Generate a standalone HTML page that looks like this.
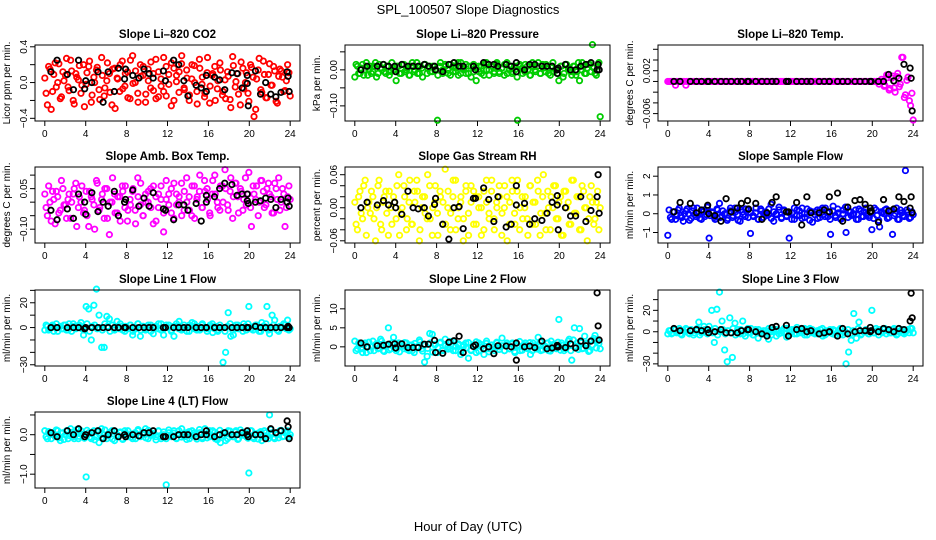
<!DOCTYPE html>
<html><head><meta charset="utf-8"><style>
html,body{margin:0;padding:0;background:#fff;}
svg{display:block;font-family:"Liberation Sans",sans-serif;}
</style></head><body>
<svg id="chart" width="936" height="540" viewBox="0 0 936 540" xmlns="http://www.w3.org/2000/svg">
<text x="468" y="14" text-anchor="middle" font-size="13">SPL_100507  Slope Diagnostics</text>
<text x="468" y="531" text-anchor="middle" font-size="13">Hour of Day (UTC)</text>
</svg>
<script>
const xTicks = [0,4,8,12,16,20,24];
const blackHours = [0.6,1.2,2.2,2.8,3.3,3.9,4.0,4.6,5.2,5.7,6.2,6.8,7.2,7.8,7.9,8.6,9.2,9.7,10.2,10.6,11.6,11.8,12.6,13.1,13.6,14.0,14.8,15.3,15.8,15.8,16.6,17.1,17.6,18.3,18.8,19.3,19.8,19.8,19.9,20.6,21.1,21.6,22.1,22.6,23.1,23.7,23.8,23.9];

const co2Vals = [.05,-.25,.15,-.1,.22,0,-.18,.12,.08,-.05,.25,-.2,.1,.03,-.12,.2,-.02,.18,-.22,.06,.14,-.08,.28,-.15,.02,.1,-.25,.16,.05,-.1,.24,-.04,.12,-.18,.3,0,-.12,.2,.08,-.22,.15,-.06,.1,.26,-.16,.04,-.1,.18,-.02,.22,-.2,.08,.12,.3,-.08,.05,-.14,.2,0,-.24,.16,.06,-.12,.28,-.04,.1,-.2,.02,.14,-.1,-.18,.07,-.28,.19,.01,-.13,.23,-.07,.11,-.21,.17,-.38,.04,.27,-.11,.09,-.17,.21,-.03,.13,-.23,.15,.06,-.09,.2,-.15];
const co2Vals2 = [-.12,.18,-.3,.09,-.05,.21,-.16,.02,.27,-.09,.13,-.24,.06,.19,-.03,-.27,.11,.24,-.14,.0,.17,-.19,.08,-.06,.22,-.11,.15,-.29,.04,.2,-.07,.1,-.17,.25,-.01,.13,-.22,.07,.18,-.13,.02,.23,-.09,-.18,.12,-.04,.28,-.15,.09,-.26,.16,.01,-.11,.21,-.06,.14,-.2,.04,.19,-.1,.26,-.02,-.16,.11,-.23,.08,.18,-.07,.22,-.14,.03,.12,-.19,.29,-.05,.1,-.25,.16,.0,-.12,.2,.06,-.3,.14,-.08,.24,-.17,.09,-.03,.18,-.21,.07,.13,-.1,.02,.11];
const co2Black = [.12,.25,.09,-.08,.25,-.07,.02,.0,.12,-.22,.12,-.1,.16,.04,.15,.08,.05,.15,.1,.05,.13,.02,.25,.2,.02,-.15,-.03,-.06,-.1,.08,.06,.03,-.08,.11,.1,-.06,.08,-.01,-.26,.13,-.13,0,-.13,-.16,-.11,.12,.07,-.1];

const presVals = [-.02,.01,-.01,.015,0,-.015,.01,-.005,.02,-.01,.005,.015,-.01,.01,-.005,0,-.03,.01,-.01,.015,0,-.015,.01,-.005,.02,-.01,.005,.015,-.01,.01,-.005,0,-.14,.01,-.01,.015,0,-.015,.01,-.005,.02,-.01,.005,.015,-.01,.01,-.005,-.03,.01,-.01,.015,0,-.015,.01,-.005,.02,-.01,.005,.015,-.01,.01,-.005,0,-.14,.01,-.01,.015,0,-.015,.01,-.005,.02,-.01,.005,.015,-.01,.01,-.005,0,-.03,.01,-.01,.015,0,-.015,.01,-.005,-.03,.02,-.01,.005,.015,.07,-.01,.01,-.13];
const presVals2 = [.015,-.01,.005,-.015,.02,0,-.01,.01,-.02,.015,.005,-.005,.01,-.015,.02,0,.01,-.01,.015,-.005,.005,-.015,.02,.0,-.01,.01,-.02,.015,.005,-.005,.01,.0,-.015,.02,.0,.01,-.01,.015,-.005,.005,-.015,.02,.0,-.01,.01,-.02,.015,.005,-.005,.01,-.015,.02,0,.01,-.01,.015,-.005,.005,-.015,.02,.0,-.01,.01,-.02,.015,.005,-.005,.01,-.015,.02,0,.01,-.01,.015,-.005,.005,-.015,.02,.0,-.01,.01,-.02,.015,.005,-.005,.01,-.015,.02,0,.01,-.01,.015,-.005,.005,-.015,.02];
const presBlack = [0,.01,.01,.015,.01,.01,-.005,.015,.01,.01,.01,.015,.01,.01,0,-.005,.015,.02,.01,.01,.01,0,.02,.015,.015,.01,.015,.01,.02,-.005,0,.015,.015,.01,.01,.01,0,-.01,.005,.015,0,0,.01,.015,.02,0,.015,0];

const tempVals = [0,0,0,-.0007,0,0,0,-.0007,0,0,0,0,0,0,0,0,0,0,0,0,0,0,0,0,0,0,0,0,0,0,0,0,0,0,0,0,0,0,0,0,0,0,0,0,0,0,0,0,0,0,0,0,0,0,0,0,0,0,0,0,0,0,0,0,0,0,0,0,0,0,0,0,0,0,0,0,0,0,0,0,0,0,0,0,-.0007,.0007,-.0013,.001,-.002,.0015,-.0005,.0045,-.0025,.0008,-.0045,-.0072];
const tempVals2 = [0,0,0,0,0,0,0,0,0,0,0,0,0,0,0,0,0,0,0,0,0,0,0,0,0,0,0,0,0,0,0,0,0,0,0,0,0,0,0,0,0,0,0,0,0,0,0,0,0,0,0,0,0,0,0,0,0,0,0,0,0,0,0,0,0,0,0,0,0,0,0,0,0,0,0,0,0,0,0,0,0,0,0,-.0005,.0004,-.0009,.0012,-.0016,.0006,-.0012,.0009,-.001,.0045,-.003,.0002,-.0036,-.0022];
const tempBlack = [0,0,0,0,0,0,0,0,0,0,0,0,0,0,0,0,0,0,0,0,0,0,0,0,0,0,0,0,0,0,0,0,0,0,0,0,0,0,0,0,0,.0013,.0001,.0006,.0032,.0025,.0006,-.0055];

const ambVals = [.03,-.05,.0,.04,-.08,.02,-.03,.05,-.01,.01,-.06,.03,.07,-.02,.0,-.04,.04,-.09,.02,-.01,.08,-.03,.01,-.06,.05,-.12,.0,.03,-.04,.02,.06,-.02,-.07,.01,.04,-.03,.09,-.01,-.05,.03,.0,.05,-.08,.02,-.02,.06,-.11,.01,.03,-.04,.07,-.01,.02,-.05,.04,.0,-.03,.06,-.06,.02,.1,-.02,.04,.01,-.05,.08,.03,-.02,.06,.0,.05,-.03,.09,.02,.07,-.04,.04,.01,-.01,.11,-.09,.03,.06,.0,.08,-.02,.05,.03,-.04,.07,.01,-.03,.05,-.09,.02,.01];
const ambVals2 = [-.02,.06,-.07,.01,.04,-.04,.08,-.01,-.06,.03,.0,.05,-.09,.02,.06,-.03,-.05,.04,.01,-.1,.07,-.02,.03,.05,-.06,.0,.09,-.04,.02,-.07,.04,.06,-.03,-.01,.05,-.08,.02,.07,-.05,.0,.04,-.02,.06,-.07,.03,.01,-.04,.08,-.01,.05,-.06,.03,.0,.07,-.03,.09,.02,-.05,.06,.01,.04,-.02,.08,.05,-.04,.03,.1,.0,-.03,.06,.12,-.01,.04,-.06,.07,.02,.05,-.03,.09,.03,-.02,.06,.01,-.05,.08,.04,-.01,.07,.02,-.04,.05,.09,.0,.03,-.02,.06];
const ambBlack = [-.03,-.065,-.025,-.06,.03,.0,-.045,.035,-.035,.0,-.015,.04,-.05,.0,.01,.045,-.015,.015,-.015,.035,-.025,-.03,-.065,-.01,-.01,-.03,-.005,-.07,.0,.025,.02,.05,.07,.065,.025,.03,.005,.03,-.005,.0,.005,.015,.01,-.02,.01,.0,.015,-.015];

const rhVals = [.01,-.04,.03,-.02,.05,.0,-.01,.02,-.06,.04,-.03,.01,.03,-.05,.0,.02,-.02,.06,-.01,.04,-.04,.01,-.03,.03,.05,-.06,.0,.02,-.02,.04,-.05,.01,-.01,.03,-.03,.07,.0,-.04,.02,.05,-.02,.01,-.06,.03,-.01,.04,-.03,.02,.0,-.05,.03,.01,-.02,.05,-.04,.0,.02,-.01,.04,-.06,.01,.03,-.03,.05,.0,-.02,.02,-.05,.04,.01,-.03,.03,-.01,.06,-.04,.0,.02,.04,-.02,.01,-.05,.03,.0,-.03,.05,-.01,.02,-.04,.04,.0,-.06,.02,.01,-.02,.03,.0];
const rhVals2 = [-.03,.02,-.01,.04,-.05,.01,.03,-.02,.0,.05,-.04,.02,-.01,.03,-.03,.01,.04,-.05,.0,.02,-.02,.05,-.03,.01,.03,-.04,.02,-.01,.06,-.02,.0,.04,-.05,.02,.01,-.03,.03,-.01,.05,-.04,.0,.02,-.02,.04,-.05,.01,.03,-.03,.02,.0,-.04,.05,-.01,.03,-.02,.01,.04,-.05,.0,.02,-.03,.05,-.01,.03,-.04,.02,.0,-.02,.04,-.03,.01,.05,-.05,.02,-.01,.03,-.04,.0,.04,-.02,.02,-.05,.03,.01,-.03,.05,-.01,.02,-.04,.03,.0,-.02,.04,-.03,.01,-.04];
const rhBlack = [.0,.01,.005,.013,.005,.01,.0,-.012,.03,.0,-.002,.0,-.015,.006,.017,-.03,-.057,.0,.002,-.038,.017,.017,.036,.015,-.025,.02,-.035,-.03,.005,.04,.008,-.03,-.02,-.023,-.01,.01,.022,.005,-.04,.0,-.015,-.015,.02,-.025,-.005,.02,.06,-.01];

const sampVals = [-1.15,-.2,.1,-.3,.2,-.1,-.4,.15,.0,-.25,.3,-.15,.05,-.3,.2,-.05,-1.3,.1,-.2,.25,.55,-.1,.0,-.35,.15,-.2,.3,-.05,-.4,.1,-.15,.2,-1.05,-.1,.05,-.3,.25,-.2,.1,-.05,.5,-.4,.0,.2,-.25,.15,-.1,-1.3,.05,-.3,.2,-.1,.3,-.2,.0,.15,-.45,.1,-.25,.2,-.05,.3,-.15,-1.1,.4,-.2,.05,-.3,.2,-1.0,.15,-.1,.0,-.3,.25,-.15,.1,-.05,-.2,-.85,.3,-.1,-.7,.05,.2,-.25,.15,-1.1,.0,-.3,.2,-.1,2.3,.1,-.2,-.05];
const sampVals2 = [.2,-.3,.1,-.1,.3,-.2,0,.25,-.35,.15,-.05,.3,-.25,.1,-.15,.35,-.1,.05,-.3,.2,-.2,.15,.0,-.25,.3,-.1,.1,-.35,.2,-.05,.25,-.2,.05,-.15,.3,-.3,.15,.0,-.1,.25,-.25,.1,-.05,.35,-.2,.2,-.15,.05,-.3,.3,-.1,.15,-.25,.0,.25,-.35,.1,-.05,.2,-.2,.3,-.15,.05,-.3,.15,-.1,.25,-.25,.0,.35,-.2,.1,-.05,.2,-.3,.15,-.15,.3,-.1,.05,-.25,.2,-.35,.1,.0,.25,-.2,.15,-.1,.3,-.3,.05,-.15,.2,-.25,.1];
const sampBlack = [.1,.6,.55,.05,.2,.45,.0,-.1,-.4,.8,.1,.3,.55,.7,.25,.55,-.3,.05,.6,.9,.1,.1,.6,-.6,.9,.05,.05,.2,.9,.1,1.1,-.4,.35,.7,.75,.5,.1,.3,.15,-.45,.75,.15,.25,.9,.65,.3,.9,.05];

const l1Vals = [-2,1,-1,2,0,-3,1,-1,2,-2,0,3,-1,1,4,-6,17,15,-10,18,31,10,-16,-16,9,7,2,-2,5,-1,1,-3,0,2,-6,-1,3,-7,1,-2,0,2,-5,1,-1,3,-6,0,2,-2,-7,1,5,-1,0,-3,2,4,-1,1,-2,3,0,-1,2,-4,1,-3,0,-28,-20,12,-7,-6,2,-1,0,3,-2,17,-1,1,2,-3,4,1,17,-5,10,6,-2,1,0,2,6,-1];
const l1Vals2 = [2,-2,1,-3,3,0,-1,2,-2,3,-3,1,0,2,-1,-2,3,-3,1,2,-1,0,-2,3,1,-3,2,-1,0,3,-2,1,-1,2,-3,0,3,-2,1,-1,2,-3,0,1,3,-2,-1,2,0,-3,1,3,-1,-2,2,0,-3,1,3,-2,-1,2,0,-3,1,3,-1,-2,2,0,-3,1,3,-2,-1,2,0,-3,1,3,-1,-2,2,0,-3,1,3,-2,-1,2,0,-3,1,3,-1,-2];
const l1Black = [0,0,0,0,0,-1,0,0,0,0,0,0,0,0,0,0,0,0,0,0,0,0,0,0,0,0,0,0,0,0,0,0,0,0,0,0,0,0,0,1,0,0,0,0,0,0,1,0];

const l2Vals = [1.5,-.5,.5,-1.5,1,0,-1,1.5,.5,-.5,2,-1,.5,5,-.5,2.5,-1,1,0,-.5,1,-1,.5,-1.5,0,1.8,-.5,-4,-2.5,3.5,3.3,.5,-1.5,1,-1,2,0,-.5,1.5,-1,.5,-2,0,1,-3,-1,.5,-1.5,1,0,-2,1.5,-.5,.5,-1,1,0,2.3,-1,.5,-.5,1,-1.5,.5,-1,0,1,-.5,-2,1,-.5,2.5,-1,.5,0,-1,1.5,.5,-.5,7.2,1,-1,.5,2,-3.5,5,1,4.8,-.5,2.8,1,-1,.5,3,1.5,-.5];
const l2Vals2 = [-1,1,-.5,.5,-1.5,1.2,0,-1,.8,-.3,1.5,-1.2,.3,-.8,1,-.5,.6,-1.3,.2,1.1,-.7,.4,-1,.9,-.2,1.3,-1.1,.5,-.4,1,-1.4,.7,-.1,1.2,-.9,.3,-.6,1.4,-1,.1,.8,-1.2,.5,-.3,1.1,-.8,.2,1.3,-1.1,.6,-.4,.9,-1.3,.4,0,1.2,-.7,.3,-1,1,-.5,.7,-1.2,.2,1.4,-.9,.5,-.2,1.1,-1,.3,-.6,1.3,-.8,.1,1,-1.1,.6,-.3,1.2,-.9,.4,-.5,1.5,-1,1.8,.2,-.7,1.1,-.4,.8,-1.2,1.6,2.2,-.3,.9];
const l2Black = [1,0,.3,.4,.7,.8,-.3,.8,-.2,-.2,-.2,.7,.7,1.7,-1.5,-1.7,1.2,1.6,2.8,-1.5,.1,.5,-.5,0,-1.8,.3,.2,0,-3.5,1,0,.2,-.2,1.5,-.5,-.3,0,.4,0,-.2,.8,-.3,1.5,.3,1.5,14.2,5.5,1.8];

const l3Vals = [-2,1,-1,2,0,-2,1,3,-1,2,-3,1,9,-1,5,-1,5,20,-10,21,37,10,-17,-28,13,-24,8,2,-2,10,-4,3,-1,-3,2,-6,0,-2,1,-7,0,2,-4,1,-1,3,-5,0,2,-2,4,-1,1,-3,2,3,-1,0,-2,2,-4,1,-1,0,2,-3,1,-2,0,-30,-19,-8,17,-6,9,-2,0,1,-2,20,-1,1,2,-1,3,1,-1,2,0,-2,1,-1,0,2,3,-1];
const l3Vals2 = [1,-2,2,-1,3,-3,0,2,-2,1,-1,3,-3,0,2,-2,1,-1,3,-3,0,2,-2,1,-1,3,-3,0,2,-2,1,-1,3,-3,0,2,-2,1,-1,3,-3,0,2,-2,1,-1,3,-3,0,2,-2,1,-1,3,-3,0,2,-2,1,-1,3,-3,0,2,-2,1,-1,3,-3,0,2,-2,1,-1,3,-3,0,2,-2,1,-1,3,-3,0,2,-2,1,-1,3,-3,0,2,-2,1,-1,3];
const l3Black = [3,1,1,2,1,2,-1,0,2,-1,-1,-1,1,2,2,0,-2,-4,4,5,6,-4,2,3,0,1,-2,-1,0,0,-4,3,-2,0,1,1,4,0,1,0,3,2,0,3,2,10,36,13];

const l4Vals = [.1,-.1,0,.05,-.05,.1,-.15,.05,0,-.1,.15,-.05,.05,-.1,.1,0,-1.07,.05,-.1,.1,-.05,-.2,.15,0,-.1,.05,.1,-.15,0,.05,-.1,.1,-.05,0,-.1,.05,.1,-.05,0,.15,-.1,.05,0,-.05,.1,-.1,0,-1.27,.05,-.05,.1,-.1,0,.15,-.05,.05,-.1,.1,0,-.05,.05,-.1,.15,0,-.05,.1,-.1,0,-.2,.05,-.15,.1,0,-.05,.1,-.1,.05,0,-.05,-.97,.1,-.1,0,.05,-.15,.1,-.05,.5,.05,-.1,0,.1,-.05,.05,.1,0];
const l4Vals2 = [-.05,.08,-.1,.02,.12,-.08,.04,-.12,.1,-.02,.06,-.1,.13,-.04,.01,-.09,.11,-.06,.03,-.13,.08,.0,-.07,.12,-.03,.05,-.11,.09,-.01,.07,-.12,.04,.1,-.06,.02,-.1,.13,-.04,.06,-.08,.11,-.02,.03,-.13,.09,-.05,.07,-.1,.12,-.01,.04,-.09,.1,-.06,.02,-.12,.08,-.03,.05,-.11,.13,-.07,.01,-.08,.1,-.04,.06,-.13,.11,-.02,.03,-.1,.09,-.05,.07,-.12,.12,-.01,.04,-.09,.1,-.06,.02,-.11,.08,-.03,.05,-.1,.13,-.07,.01,-.08,.11,-.04,.06,-.05];
const l4Black = [.05,-.05,.1,0,.15,-.05,0,.05,.1,-.1,0,.1,-.05,0,-.05,0,-.03,.05,.05,.1,-.05,-.05,-.05,0,0,0,-.05,0,0,.1,-.05,0,.05,0,0,.05,0,.1,-.05,0,0,-.1,.15,.05,.1,.35,.2,-.1];

const colX = [35,345,658];
const rowY = [45,167,290,412];
const panels = [
 {c:0,r:0,name:'co2',title:'Slope Li\u2013820 CO2',ylab:'Licor ppm per min.',ymin:-0.43,ymax:0.42,ticks:[-0.4,-0.2,0,0.2,0.4],labels:[[-0.4,'\u22120.4'],[0,'0.0'],[0.4,'0.4']],color:'#ff0000',vals:co2Vals,vals2:co2Vals2,black:co2Black},
 {c:1,r:0,name:'pressure',title:'Slope Li\u2013820 Pressure',ylab:'kPa per min.',ymin:-0.142,ymax:0.069,ticks:[-0.1,-0.05,0,0.05],labels:[[-0.1,'\u22120.10'],[0,'0.00']],color:'#00cc00',vals:presVals,vals2:presVals2,black:presBlack},
 {c:2,r:0,name:'temp',title:'Slope Li\u2013820 Temp.',ylab:'degrees C per min.',ymin:-0.00738,ymax:0.0068,ticks:[-0.006,-0.004,-0.002,0,0.002,0.004,0.006],labels:[[-0.006,'\u22120.006'],[0.002,'0.002']],color:'#ff00ff',vals:tempVals,vals2:tempVals2,black:tempBlack},
 {c:0,r:1,name:'amb-box-temp',title:'Slope Amb. Box Temp.',ylab:'degrees C per min.',ymin:-0.151,ymax:0.13,ticks:[-0.1,-0.05,0,0.05,0.1],labels:[[-0.1,'\u22120.10'],[0.05,'0.05']],color:'#ff00ff',vals:ambVals,vals2:ambVals2,black:ambBlack},
 {c:1,r:1,name:'gas-rh',title:'Slope Gas Stream RH',ylab:'percent per min.',ymin:-0.064,ymax:0.074,ticks:[-0.06,-0.04,-0.02,0,0.02,0.04,0.06],labels:[[-0.06,'\u22120.06'],[0,'0.00'],[0.06,'0.06']],color:'#ffff00',vals:rhVals,vals2:rhVals2,black:rhBlack},
 {c:2,r:1,name:'sample-flow',title:'Slope Sample Flow',ylab:'ml/min per min.',ymin:-1.56,ymax:2.49,ticks:[-1,0,1,2],labels:[[-1,'\u22121'],[0,'0'],[1,'1'],[2,'2']],color:'#0000ff',vals:sampVals,vals2:sampVals2,black:sampBlack},
 {c:0,r:2,name:'line1-flow',title:'Slope Line 1 Flow',ylab:'ml/min per min.',ymin:-31,ymax:30.3,ticks:[-30,-20,-10,0,10,20,30],labels:[[-30,'\u221230'],[0,'0'],[20,'20']],color:'#00ffff',vals:l1Vals,vals2:l1Vals2,black:l1Black},
 {c:1,r:2,name:'line2-flow',title:'Slope Line 2 Flow',ylab:'ml/min per min.',ymin:-5.04,ymax:14.95,ticks:[0,5,10],labels:[[0,'0'],[5,'5'],[10,'10']],color:'#00ffff',vals:l2Vals,vals2:l2Vals2,black:l2Black},
 {c:2,r:2,name:'line3-flow',title:'Slope Line 3 Flow',ylab:'ml/min per min.',ymin:-32,ymax:39,ticks:[-30,-20,-10,0,10,20,30],labels:[[-30,'\u221230'],[0,'0'],[20,'20']],color:'#00ffff',vals:l3Vals,vals2:l3Vals2,black:l3Black},
 {c:0,r:3,name:'line4-flow',title:'Slope Line 4 (LT) Flow',ylab:'ml/min per min.',ymin:-1.35,ymax:0.575,ticks:[-1,-0.5,0,0.5],labels:[[-1,'\u22121.0'],[0,'0.0']],color:'#00ffff',vals:l4Vals,vals2:l4Vals2,black:l4Black}
];
const NS='http://www.w3.org/2000/svg';
const svg=document.getElementById('chart');
function mk(tag,attrs,parent){const e=document.createElementNS(NS,tag);for(const k in attrs)e.setAttribute(k,attrs[k]);(parent||svg).appendChild(e);return e;}
const W=265,H=76;
panels.forEach(p=>{
  const x0=colX[p.c],y0=rowY[p.r];
  const g=mk('g',{});
  
  
  const sx=h=>x0+(h+0.96)/25.92*W;
  const sy=v=>y0+H-(v-p.ymin)/(p.ymax-p.ymin)*H;
  const t=mk('text',{x:x0+W/2,y:y0-7,'text-anchor':'middle','font-size':'11.5','font-weight':'bold'},g);
  t.textContent=p.title;
  
  
  const yl=mk('text',{transform:`translate(${x0-25},${y0+H/2}) rotate(-90)`,'text-anchor':'middle','font-size':'10'},g);
  yl.textContent=p.ylab;
  
  
  xTicks.forEach(h=>{
    const X=sx(h);
    mk('line',{x1:X,x2:X,y1:y0+H,y2:y0+H+5,stroke:'#000'},g);
    const tl=mk('text',{x:X,y:y0+H+16,'text-anchor':'middle','font-size':'10'},g);
    tl.textContent=h;
    
    
  });
  p.ticks.forEach(v=>{const Y=sy(v);mk('line',{x1:x0-5,x2:x0,y1:Y,y2:Y,stroke:'#000'},g);});
  p.labels.forEach(([v,s])=>{
    const Y=sy(v);
    const tl=mk('text',{transform:`translate(${x0-8},${Y}) rotate(-90)`,'text-anchor':'middle','font-size':'10'},g);
    tl.textContent=s;
    
    
  });
  const n=p.vals.length;
  p.vals.forEach((v,i)=>{
    const c=mk('circle',{cx:sx(i*24/(n-1)),cy:sy(v),r:2.7,fill:'none',stroke:p.color,'stroke-width':1.8},g);
    
    
  });
  const n2=p.vals2.length;
  p.vals2.forEach((v,i)=>{
    const c=mk('circle',{cx:sx((i+0.5)*24/n2),cy:sy(v),r:2.7,fill:'none',stroke:p.color,'stroke-width':1.8},g);
    
    
  });
  const m=Math.min(blackHours.length,p.black.length);
  for(let i=0;i<m;i++){
    const c=mk('circle',{cx:sx(blackHours[i]),cy:sy(p.black[i]),r:2.7,fill:'none',stroke:'#000','stroke-width':1.8},g);
    
    
  }
  const b=mk('rect',{x:x0,y:y0,width:W,height:H,fill:'none',stroke:'#000','stroke-width':1},g);
  
  
});
</script>
</body></html>
